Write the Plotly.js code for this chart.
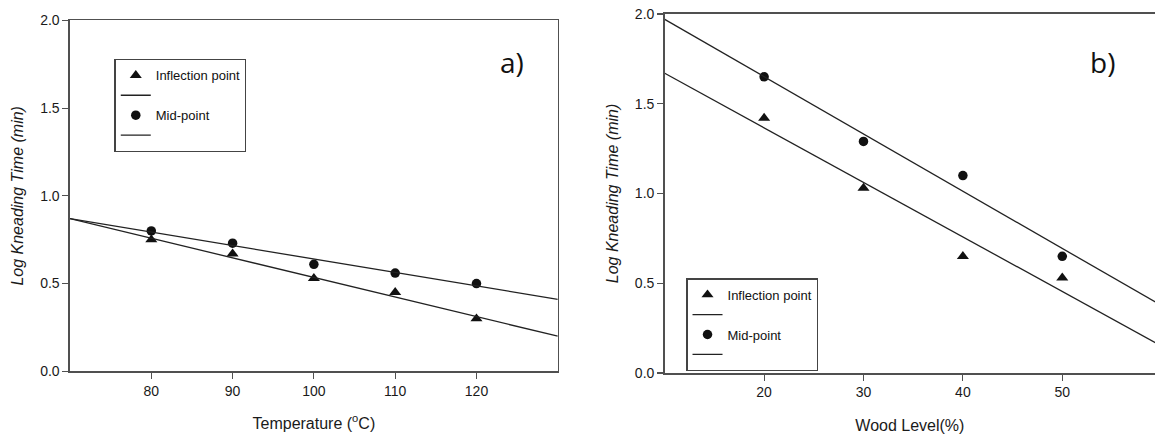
<!DOCTYPE html>
<html>
<head>
<meta charset="utf-8">
<script src="https://cdn.plot.ly/plotly-3.0.1.min.js"></script>
<style>
  html, body { margin: 0; padding: 0; background: #fff; }
  #chart { width: 1155px; height: 434px; }
</style>
</head>
<body>
<div id="chart"></div>
<script>
// ---- Panel a) : Temperature ----
const tempX = [80, 90, 100, 110, 120];
const tempInfl = [0.75, 0.67, 0.53, 0.45, 0.30];
const tempMid = [0.80, 0.73, 0.61, 0.56, 0.50];
const tempFitX = [70, 130];
const tempFitInfl = [0.87, 0.20];
const tempFitMid = [0.87, 0.41];
const tempTicks = [80, 90, 100, 110, 120];

// ---- Panel b) : Wood level ----
const woodX = [20, 30, 40, 50];
const woodInfl = [1.42, 1.03, 0.65, 0.53];
const woodMid = [1.65, 1.29, 1.10, 0.65];
const woodFitX = [10, 60];
const woodFitInfl = [1.67, 0.15];
const woodFitMid = [1.97, 0.375];
const woodTicks = [20, 30, 40, 50];

const yTicks = [0, 0.5, 1.0, 1.5, 2.0];
const yTickText = ['0.0', '0.5', '1.0', '1.5', '2.0'];

const seriesNames = ['Inflection point', 'Mid-point'];
const panelLabels = ['a)', 'b)'];

const ink = '#111111';
const lineCol = '#222222';
const axisCol = '#505050';
const baseFont = 'Liberation Sans, Arial, sans-serif';

function markerTrace(x, y, name, symbol, xa, ya, leg) {
  return {
    x: x, y: y, name: name, type: 'scatter', mode: 'markers',
    xaxis: xa, yaxis: ya, legend: leg,
    marker: { symbol: symbol, size: symbol === 'circle' ? 9.5 : 10.5, color: ink, line: { width: 0 } },
    cliponaxis: false
  };
}
function lineTrace(x, y, xa, ya, leg) {
  return {
    x: x, y: y, name: '', type: 'scatter', mode: 'lines',
    xaxis: xa, yaxis: ya, legend: leg,
    line: { color: lineCol, width: 1.3 }
  };
}

const data = [
  markerTrace(tempX, tempInfl, seriesNames[0], 'triangle-up', 'x', 'y', 'legend'),
  lineTrace(tempFitX, tempFitInfl, 'x', 'y', 'legend'),
  markerTrace(tempX, tempMid, seriesNames[1], 'circle', 'x', 'y', 'legend'),
  lineTrace(tempFitX, tempFitMid, 'x', 'y', 'legend'),
  markerTrace(woodX, woodInfl, seriesNames[0], 'triangle-up', 'x2', 'y2', 'legend2'),
  lineTrace(woodFitX, woodFitInfl, 'x2', 'y2', 'legend2'),
  markerTrace(woodX, woodMid, seriesNames[1], 'circle', 'x2', 'y2', 'legend2'),
  lineTrace(woodFitX, woodFitMid, 'x2', 'y2', 'legend2')
];

// geometry (pixels)
const W = 1155, H = 434;
const mL = 69.5, mR = 0, mT = 14.3, mB = H - 372.7;
const pw = W - mL - mR, ph = H - mT - mB;
const px = v => (v - mL) / pw;
const py = v => (H - mB - v) / ph;

const tickFont = { family: baseFont, size: 14, color: '#1a1a1a' };
const titleFont = { family: baseFont, size: 16, color: '#1a1a1a' };

function xAxis(domain, range, ticks, title, anchor, mirror) {
  return {
    domain: domain, range: range, anchor: anchor,
    tickmode: 'array', tickvals: ticks, ticktext: ticks.map(String),
    ticks: 'outside', ticklen: 6, tickwidth: 1.2, tickcolor: axisCol,
    showline: true, linecolor: axisCol, linewidth: 1.6, mirror: mirror,
    showgrid: false, zeroline: false,
    tickfont: tickFont,
    title: { text: title, font: titleFont, standoff: 20 }
  };
}
function yAxis(domain, anchor, mirror) {
  return {
    domain: domain, range: [0, 2], anchor: anchor,
    tickmode: 'array', tickvals: yTicks, ticktext: yTickText,
    ticks: 'outside', ticklen: 6, tickwidth: 1.2, tickcolor: axisCol,
    showline: true, linecolor: axisCol, linewidth: 1.6, mirror: mirror,
    showgrid: false, zeroline: false,
    tickfont: tickFont,
    title: { text: '<i>Log Kneading Time (min)</i>', font: titleFont, standoff: 12 }
  };
}

const legendStyle = {
  bgcolor: 'rgba(255,255,255,0)',
  bordercolor: '#444', borderwidth: 1.3,
  font: { family: baseFont, size: 13, color: '#111' },
  xref: 'paper', yref: 'paper', xanchor: 'left', yanchor: 'top',
  traceorder: 'normal'
};

const layout = {
  width: W, height: H,
  margin: { l: mL, r: mR, t: mT, b: mB, pad: 0 },
  paper_bgcolor: '#fff', plot_bgcolor: 'rgba(0,0,0,0)',
  showlegend: true,
  xaxis: xAxis([0, px(557.5)], [70, 130], tempTicks, 'Temperature (<sup>o</sup>C)', 'y', true),
  yaxis: yAxis([py(371), py(20.7)], 'x', true),
  xaxis2: xAxis([px(664.5), 1], [10, 59.33], woodTicks, 'Wood Level(%)', 'y2', true),
  yaxis2: yAxis([0, 1], 'x2', false),
  legend: Object.assign({}, legendStyle, { x: px(114), y: py(59.3) }),
  legend2: Object.assign({}, legendStyle, { x: px(686), y: py(278.3) }),
  annotations: [
    { text: panelLabels[0], xref: 'paper', yref: 'paper', x: px(512), y: py(62),
      xanchor: 'center', yanchor: 'middle', showarrow: false,
      font: { family: 'Open Sans, sans-serif', size: 28, color: '#111' } },
    { text: panelLabels[1], xref: 'paper', yref: 'paper', x: px(1102), y: py(62),
      xanchor: 'center', yanchor: 'middle', showarrow: false,
      font: { family: 'Open Sans, sans-serif', size: 28, color: '#111' } }
  ]
};

Plotly.newPlot('chart', data, layout, { staticPlot: true, displayModeBar: false });
</script>
</body>
</html>
